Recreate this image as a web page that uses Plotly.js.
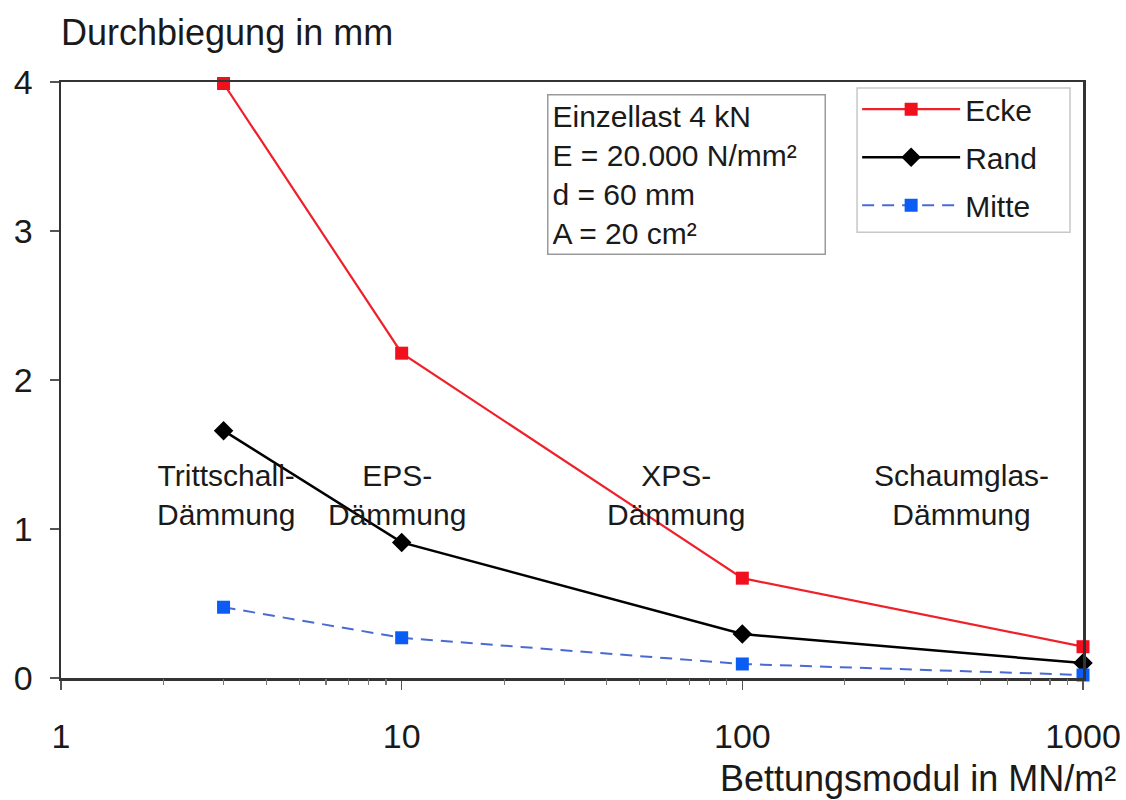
<!DOCTYPE html>
<html>
<head>
<meta charset="utf-8">
<script src="https://cdn.plot.ly/plotly-3.0.1.min.js"></script>
<style>html,body{margin:0;padding:0;background:#fff;}</style>
</head>
<body>
<div id="chart" style="width:1126px;height:800px;"></div>
<script>
// Bettungsmodul in MN/m² (log axis)
const bettungsmodul = [3, 10, 100, 1000];
// Durchbiegung in mm
const ecke  = [3.99, 2.18, 0.67, 0.21];
const rand  = [1.66, 0.91, 0.295, 0.10];
const mitte = [0.475, 0.27, 0.094, 0.02];

const seriesNames = ['Ecke', 'Rand', 'Mitte'];
const xTickVals = [1, 10, 100, 1000];
const xTickText = ['1', '10', '100', '1000'];
const yTickVals = [0, 1, 2, 3, 4];
const minorTickVals = [2,3,4,5,6,7,8,9,20,30,40,50,60,70,80,90,200,300,400,500,600,700,800,900];

const categoryLabels = ['Trittschall-<br>Dämmung', 'EPS-<br>Dämmung', 'XPS-<br>Dämmung', 'Schaumglas-<br>Dämmung'];
const categoryLabelX = [3.05, 9.7, 64, 440];
const infoText = 'Einzellast 4 kN<br>E = 20.000 N/mm²<br>d = 60 mm<br>A = 20 cm²';
const yTitle = 'Durchbiegung in mm';
const xTitle = 'Bettungsmodul in MN/m²';

const FONT = 'Liberation Sans, Arial, Helvetica, sans-serif';
const TXT = '#1a1a1a';

const traces = [
  {x: bettungsmodul, y: ecke, name: seriesNames[0], type: 'scatter', mode: 'lines+markers',
   legendgroup: 'a', cliponaxis: false,
   line: {color: '#f0202a', width: 2.2}, marker: {symbol: 'square', size: 13, color: '#f0101e'}},
  {x: bettungsmodul, y: rand, name: seriesNames[1], type: 'scatter', mode: 'lines+markers',
   legendgroup: 'b', cliponaxis: false,
   line: {color: '#000000', width: 2.5}, marker: {symbol: 'diamond', size: 15, color: '#000000'}},
  {x: bettungsmodul, y: mitte, name: seriesNames[2], type: 'scatter', mode: 'lines+markers',
   legendgroup: 'c', cliponaxis: false,
   line: {color: '#4a6ad0', width: 2, dash: '12px,8px'}, marker: {symbol: 'square', size: 13, color: '#0a5cf5'}},
  // invisible trace carrying minor ticks
  {x: [1, 1000], y: [0, 0], xaxis: 'x2', yaxis: 'y', mode: 'none', showlegend: false, hoverinfo: 'skip'}
];

const annotations = categoryLabels.map((t, i) => ({
  text: t, xref: 'x', yref: 'paper', x: Math.log10(categoryLabelX[i]), y: 0.307,
  showarrow: false, xanchor: 'center', yanchor: 'middle', align: 'center',
  font: {family: FONT, size: 30, color: TXT}
}));
annotations.push({
  text: infoText, xref: 'paper', yref: 'paper', x: 0.4755, y: 0.98,
  xanchor: 'left', yanchor: 'top', align: 'left', showarrow: false,
  font: {family: FONT, size: 30, color: TXT}, width: 268,
  bordercolor: '#9a9a9a', borderwidth: 1.5, borderpad: 4, bgcolor: '#ffffff'
});
annotations.push({
  text: yTitle, xref: 'paper', yref: 'paper', x: -0.002, y: 1, yshift: 50,
  xanchor: 'left', yanchor: 'middle', showarrow: false,
  font: {family: FONT, size: 36, color: TXT}
});
annotations.push({
  text: xTitle, xref: 'paper', yref: 'paper', x: 1, xshift: 35, y: 0, yshift: -100,
  xanchor: 'right', yanchor: 'middle', showarrow: false,
  font: {family: FONT, size: 36, color: TXT}
});

const layout = {
  width: 1126, height: 800,
  margin: {l: 61, r: 43, t: 82, b: 122},
  paper_bgcolor: '#ffffff', plot_bgcolor: '#ffffff',
  font: {family: FONT, color: TXT},
  showlegend: true,
  legend: {
    x: 0.779, y: 0.998, xanchor: 'left', yanchor: 'top',
    bgcolor: 'rgba(0,0,0,0)', borderwidth: 0,
    font: {family: FONT, size: 30, color: TXT},
    tracegroupgap: 6, itemwidth: 98
  },
  shapes: [{
    type: 'rect', xref: 'paper', yref: 'paper', layer: 'below',
    x0: 0.7789, x1: 0.9873, y0: 0.748, y1: 0.99,
    line: {color: '#c8c8c8', width: 1.5}, fillcolor: '#ffffff'
  }],
  xaxis: {
    type: 'log', range: [0, 3],
    tickvals: xTickVals, ticktext: xTickText,
    ticks: 'outside', ticklen: 9, tickwidth: 1.5, tickcolor: '#555',
    ticklabelstandoff: 18,
    tickfont: {family: FONT, size: 34, color: TXT},
    showline: true, linecolor: '#333', linewidth: 2.5, mirror: true,
    showgrid: false, zeroline: false
  },
  xaxis2: {
    type: 'log', range: [0, 3], overlaying: 'x', anchor: 'y', side: 'bottom',
    tickvals: minorTickVals, showticklabels: false,
    ticks: 'outside', ticklen: 6, tickwidth: 1.2, tickcolor: '#777',
    showline: false, showgrid: false, zeroline: false
  },
  yaxis: {
    range: [0, 4], tickvals: yTickVals,
    ticks: 'outside', ticklen: 9, tickwidth: 1.5, tickcolor: '#555',
    ticklabelstandoff: 10,
    tickfont: {family: FONT, size: 34, color: TXT},
    showline: true, linecolor: '#333', linewidth: 2.5, mirror: true,
    showgrid: false, zeroline: false
  },
  annotations: annotations
};

Plotly.newPlot('chart', traces, layout, {displayModeBar: false, staticPlot: true});
</script>
</body>
</html>
